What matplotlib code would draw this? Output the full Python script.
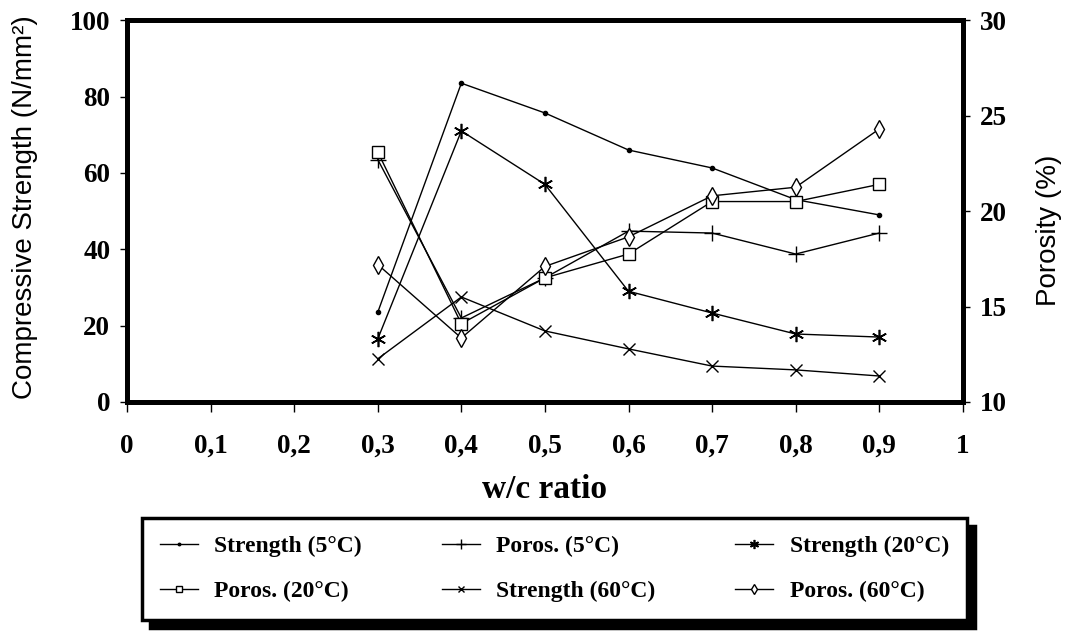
import matplotlib.pyplot as plt

# w/c ratios and measured values
wc = [0.3, 0.4, 0.5, 0.6, 0.7, 0.8, 0.9]

strength_5 = [23.5, 83.5, 75.7, 66.0, 61.3, 53.0, 49.0]
strength_20 = [16.5, 71.0, 57.0, 29.0, 23.3, 17.8, 17.0]
strength_60 = [11.3, 27.5, 18.6, 13.9, 9.4, 8.4, 6.8]

poros_5 = [22.7, 14.4, 16.5, 18.95, 18.85, 17.75, 18.85]
poros_20 = [23.1, 14.1, 16.5, 17.75, 20.5, 20.5, 21.4]
poros_60 = [17.2, 13.35, 17.1, 18.65, 20.8, 21.25, 24.3]

x_ticks = [0, 0.1, 0.2, 0.3, 0.4, 0.5, 0.6, 0.7, 0.8, 0.9, 1]
x_tick_labels = ["0", "0,1", "0,2", "0,3", "0,4", "0,5", "0,6", "0,7", "0,8", "0,9", "1"]
left_ticks = [0, 20, 40, 60, 80, 100]
right_ticks = [10, 15, 20, 25, 30]

SERIF = "Liberation Serif"
SANS = "Liberation Sans"

fig = plt.figure(figsize=(10.71, 6.32), dpi=100)
ax = fig.add_axes([0.1186, 0.364, 0.7804, 0.604])
ax2 = ax.twinx()

line_kw = dict(color="black", linewidth=1.0)
h_s5, = ax.plot(wc, strength_5, marker="o", markersize=3, label="Strength (5\u00b0C)", **line_kw)
h_s20, = ax.plot(wc, strength_20, marker=(6, 2, 0), markersize=11, markeredgewidth=1.2,
                 label="Strength (20\u00b0C)", **line_kw)
h_s60, = ax.plot(wc, strength_60, marker="x", markersize=8, markeredgewidth=1.0,
                 label="Strength (60\u00b0C)", **line_kw)
h_p5, = ax2.plot(wc, poros_5, marker="+", markersize=12, markeredgewidth=1.0,
                 label="Poros. (5\u00b0C)", **line_kw)
h_p20, = ax2.plot(wc, poros_20, marker="s", markersize=8, markerfacecolor="white",
                  markeredgewidth=1.0, label="Poros. (20\u00b0C)", **line_kw)
h_p60, = ax2.plot(wc, poros_60, marker="d", markersize=9, markerfacecolor="white",
                  markeredgewidth=1.0, label="Poros. (60\u00b0C)", **line_kw)

ax.set_xlim(0, 1)
ax.set_ylim(0, 100)
ax2.set_ylim(10, 30)

ax.set_xticks(x_ticks)
ax.set_xticklabels(x_tick_labels)
ax.set_yticks(left_ticks)
ax2.set_yticks(right_ticks)

for a in (ax, ax2):
    for sp in a.spines.values():
        sp.set_linewidth(3.5)
    a.tick_params(axis="y", direction="out", length=5, width=1, pad=7)
    a.tick_params(axis="x", direction="out", length=7, width=1, pad=16)
    for lab in a.get_xticklabels() + a.get_yticklabels():
        lab.set_fontfamily(SERIF)
        lab.set_fontweight("bold")
        lab.set_fontsize(19.5)

ax.set_xlabel("w/c ratio", fontfamily=SERIF, fontweight="bold", fontsize=24, labelpad=11)
ax.set_ylabel("Compressive Strength (N/mm\u00b2)", fontfamily=SANS, fontsize=20)
ax.yaxis.set_label_coords(-0.106, 0.51)
ax2.set_ylabel("Porosity (%)", fontfamily=SANS, fontsize=20)
ax2.yaxis.set_label_coords(1.087, 0.45)

# legend filled column-wise: rows read S5, P5, S20 / P20, S60, P60
handles = [h_s5, h_p20, h_p5, h_s60, h_s20, h_p60]
leg = fig.legend(handles, [h.get_label() for h in handles], ncol=3,
                 loc="lower left", bbox_to_anchor=(0.1326, 0.019, 0.77, 0.161),
                 mode="expand", fancybox=False, edgecolor="black",
                 shadow={"color": "black", "alpha": 1, "ox": 6, "oy": -6},
                 handlelength=1.6, handletextpad=0.7, markerscale=0.6,
                 borderpad=0.75, labelspacing=1.0, borderaxespad=0,
                 prop={"family": SERIF, "weight": "bold", "size": 17})
leg.get_frame().set_linewidth(2.5)

plt.savefig("out.png", dpi=100)
